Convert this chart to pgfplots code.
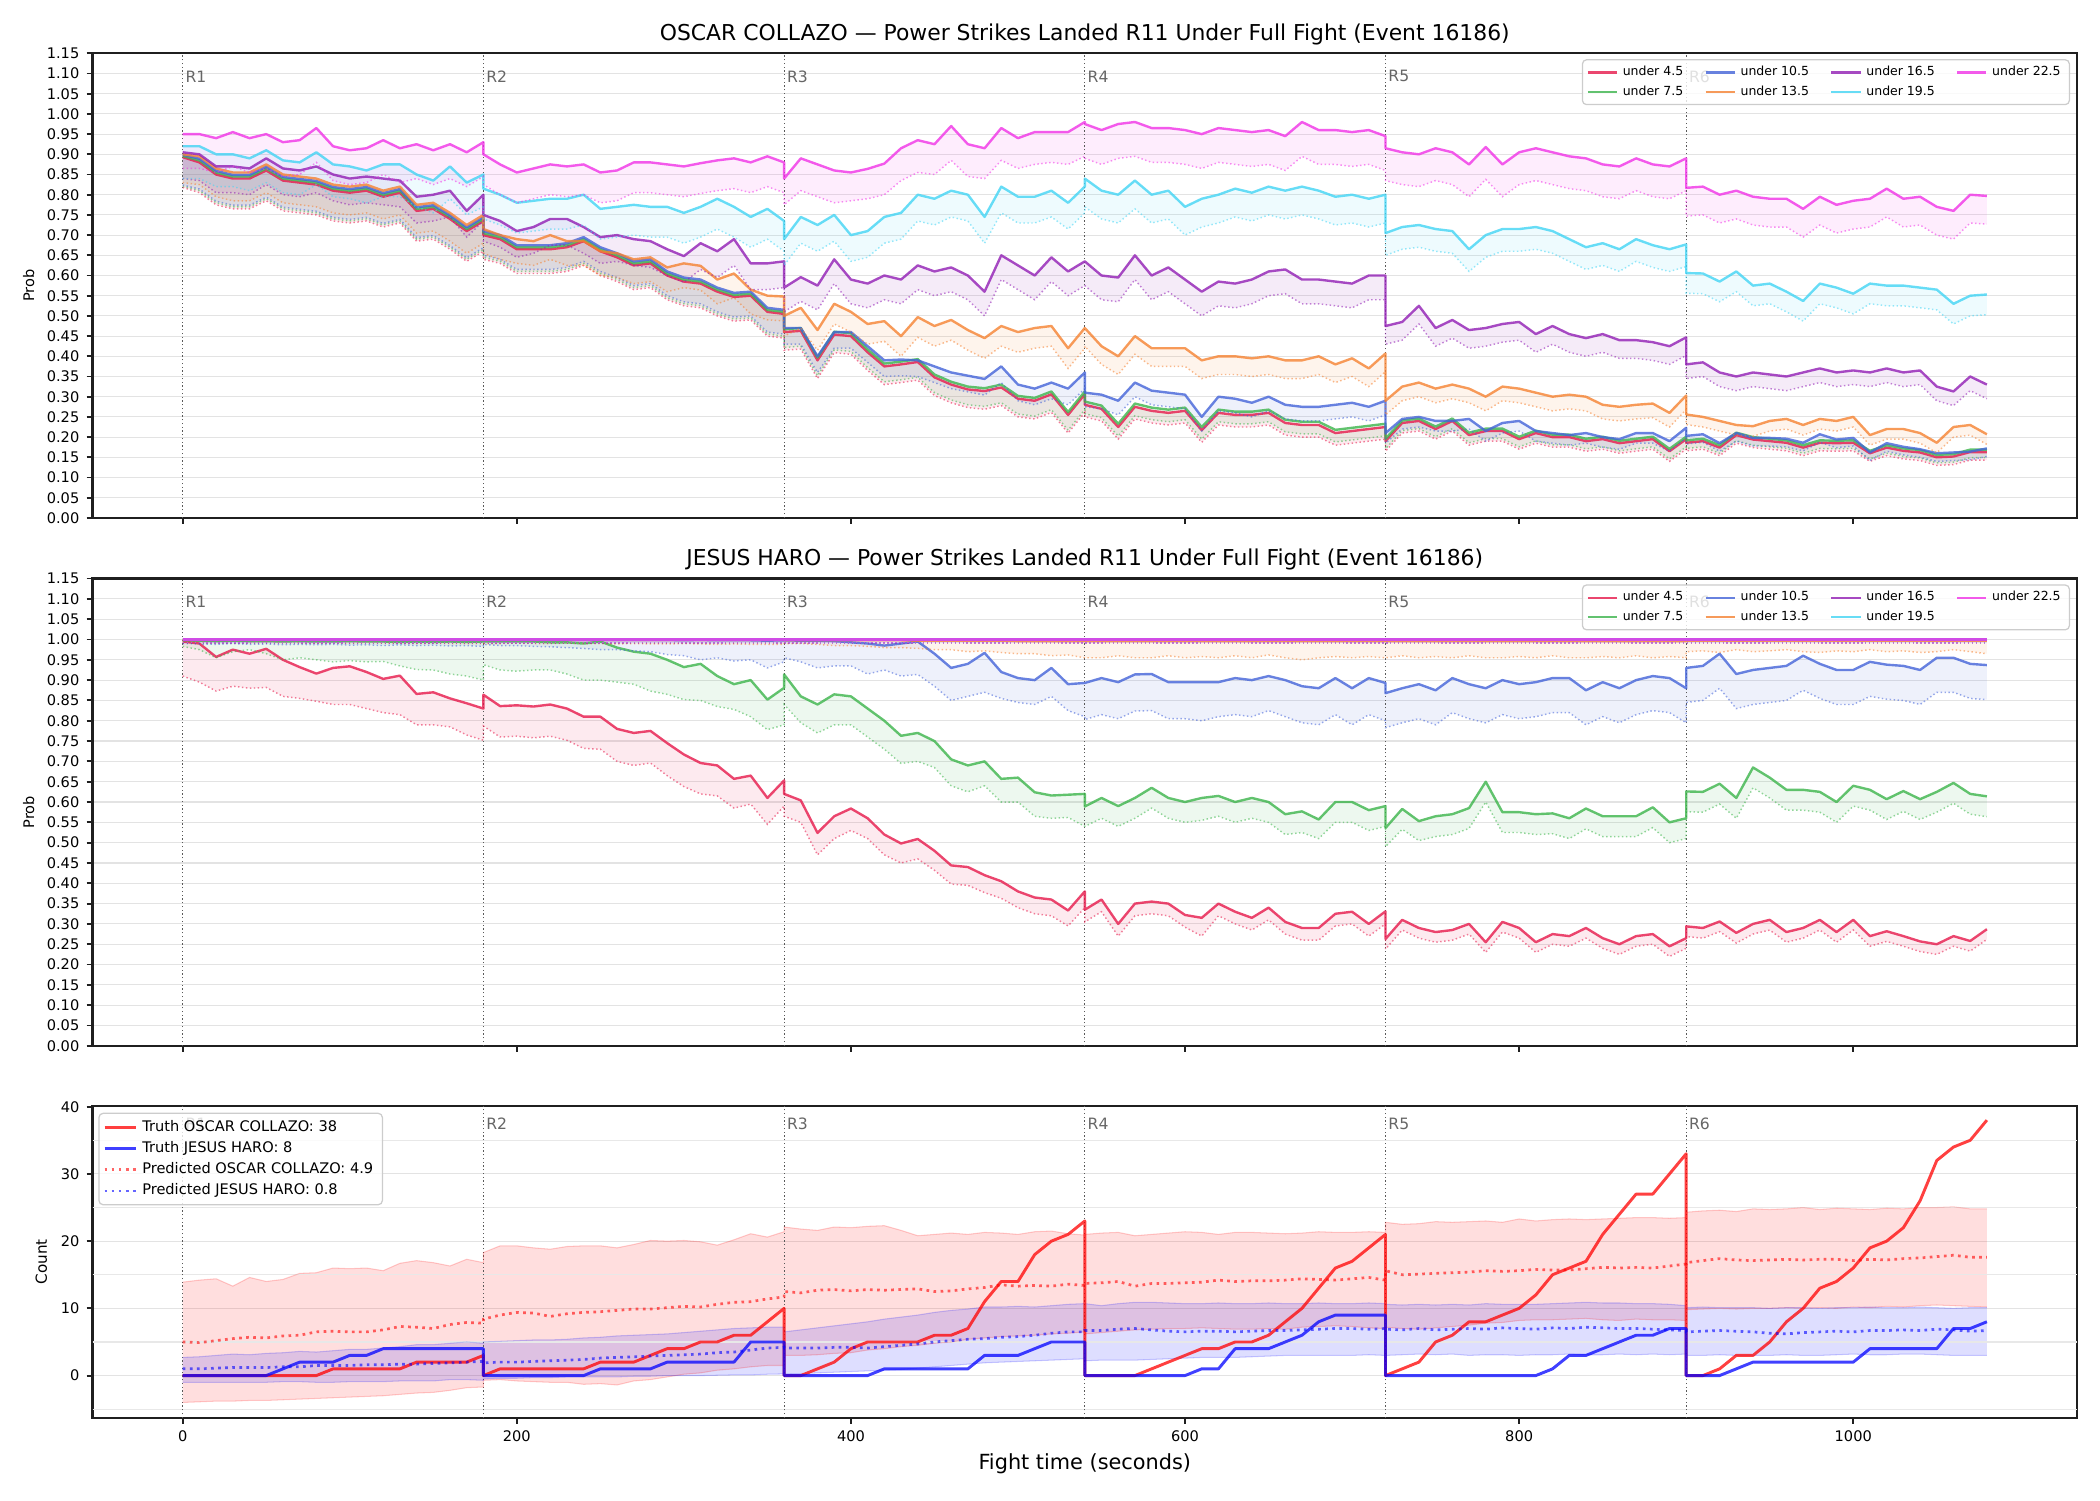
\documentclass[border=0pt]{standalone}
\usepackage{fontspec}
\setmainfont{DejaVu Sans}
\usepackage{pgfplots}
\pgfplotsset{compat=1.18}
\usepackage{pgfplotstable}
\usepgfplotslibrary{fillbetween}

\definecolor{c4}{HTML}{E6194B}
\definecolor{c7}{HTML}{3CB44B}
\definecolor{c10}{HTML}{4363D8}
\definecolor{c13}{HTML}{F58231}
\definecolor{c16}{HTML}{911EB4}
\definecolor{c19}{HTML}{42D4F4}
\definecolor{c22}{HTML}{F032E6}

% Oscar Collazo: P(under k.5) per line, with the lower edge of each band
\pgfplotstableread{
t r rl g gl b bl o ol p pl c cl m ml
0 0.893 0.818 0.896 0.821 0.899 0.824 0.900 0.830 0.905 0.840 0.920 0.840 0.950 0.865
10 0.880 0.805 0.885 0.810 0.889 0.814 0.895 0.825 0.900 0.835 0.920 0.840 0.950 0.865
20 0.850 0.775 0.855 0.780 0.859 0.784 0.865 0.795 0.870 0.805 0.900 0.820 0.940 0.855
30 0.840 0.765 0.845 0.770 0.849 0.774 0.855 0.785 0.870 0.805 0.900 0.820 0.955 0.870
40 0.840 0.765 0.845 0.770 0.849 0.774 0.855 0.785 0.865 0.800 0.890 0.810 0.940 0.855
50 0.860 0.785 0.865 0.790 0.869 0.794 0.875 0.805 0.890 0.825 0.910 0.830 0.950 0.865
60 0.835 0.760 0.840 0.765 0.844 0.769 0.850 0.780 0.865 0.800 0.885 0.805 0.930 0.845
70 0.830 0.755 0.835 0.760 0.839 0.764 0.845 0.775 0.860 0.795 0.880 0.800 0.935 0.850
80 0.825 0.750 0.830 0.755 0.834 0.759 0.840 0.770 0.870 0.805 0.905 0.825 0.965 0.880
90 0.810 0.735 0.815 0.740 0.819 0.744 0.825 0.755 0.850 0.785 0.875 0.795 0.920 0.835
100 0.805 0.730 0.810 0.735 0.814 0.739 0.820 0.750 0.840 0.775 0.870 0.790 0.910 0.825
110 0.810 0.735 0.815 0.740 0.819 0.744 0.825 0.755 0.845 0.780 0.860 0.780 0.915 0.830
120 0.795 0.720 0.800 0.725 0.804 0.729 0.810 0.740 0.840 0.775 0.875 0.795 0.935 0.850
130 0.805 0.730 0.810 0.735 0.814 0.739 0.820 0.750 0.835 0.770 0.875 0.795 0.915 0.830
140 0.760 0.685 0.765 0.690 0.769 0.694 0.775 0.705 0.795 0.730 0.850 0.770 0.925 0.840
150 0.765 0.690 0.770 0.695 0.774 0.699 0.780 0.710 0.800 0.735 0.835 0.755 0.910 0.825
160 0.740 0.665 0.745 0.670 0.749 0.674 0.755 0.685 0.810 0.745 0.870 0.790 0.925 0.840
170 0.710 0.635 0.715 0.640 0.719 0.644 0.725 0.655 0.760 0.695 0.830 0.750 0.905 0.820
180 0.735 0.660 0.740 0.665 0.744 0.669 0.750 0.680 0.800 0.735 0.850 0.770 0.930 0.845
180 0.700 0.640 0.705 0.645 0.710 0.650 0.715 0.655 0.750 0.685 0.815 0.740 0.900 0.825
190 0.690 0.630 0.695 0.635 0.700 0.640 0.700 0.640 0.735 0.670 0.800 0.725 0.875 0.800
200 0.665 0.605 0.670 0.610 0.675 0.615 0.690 0.630 0.710 0.645 0.780 0.705 0.855 0.780
210 0.665 0.605 0.670 0.610 0.675 0.615 0.685 0.625 0.720 0.655 0.785 0.710 0.865 0.790
220 0.665 0.605 0.670 0.610 0.675 0.615 0.700 0.640 0.740 0.675 0.790 0.715 0.875 0.800
230 0.670 0.610 0.675 0.615 0.680 0.620 0.685 0.625 0.740 0.675 0.790 0.715 0.870 0.795
240 0.685 0.625 0.690 0.630 0.695 0.635 0.685 0.625 0.720 0.655 0.800 0.725 0.875 0.800
250 0.660 0.600 0.665 0.605 0.670 0.610 0.660 0.600 0.695 0.630 0.765 0.690 0.855 0.780
260 0.645 0.585 0.650 0.590 0.655 0.595 0.655 0.595 0.700 0.635 0.770 0.695 0.860 0.785
270 0.625 0.565 0.630 0.570 0.635 0.575 0.640 0.580 0.690 0.625 0.775 0.700 0.880 0.805
280 0.630 0.570 0.635 0.575 0.640 0.580 0.645 0.585 0.685 0.620 0.770 0.695 0.880 0.805
290 0.600 0.540 0.605 0.545 0.610 0.550 0.620 0.560 0.665 0.600 0.770 0.695 0.875 0.800
300 0.585 0.525 0.590 0.530 0.595 0.535 0.630 0.570 0.648 0.583 0.755 0.680 0.870 0.795
310 0.580 0.520 0.585 0.525 0.590 0.530 0.624 0.564 0.680 0.615 0.770 0.695 0.878 0.803
320 0.560 0.500 0.565 0.505 0.570 0.510 0.590 0.530 0.660 0.595 0.790 0.715 0.885 0.810
330 0.547 0.487 0.552 0.492 0.557 0.497 0.605 0.545 0.690 0.625 0.770 0.695 0.890 0.815
340 0.550 0.490 0.555 0.495 0.560 0.500 0.565 0.505 0.630 0.565 0.745 0.670 0.880 0.805
350 0.510 0.450 0.515 0.455 0.520 0.460 0.550 0.490 0.630 0.565 0.765 0.690 0.895 0.820
360 0.505 0.445 0.510 0.450 0.515 0.455 0.548 0.488 0.635 0.570 0.735 0.660 0.880 0.805
360 0.460 0.415 0.467 0.422 0.470 0.430 0.500 0.450 0.570 0.510 0.690 0.625 0.840 0.775
370 0.463 0.418 0.470 0.425 0.470 0.430 0.520 0.470 0.596 0.536 0.745 0.680 0.890 0.810
380 0.390 0.345 0.397 0.352 0.400 0.360 0.465 0.415 0.575 0.515 0.725 0.660 0.875 0.795
390 0.454 0.409 0.461 0.416 0.460 0.420 0.530 0.480 0.640 0.580 0.750 0.685 0.860 0.780
400 0.450 0.405 0.457 0.412 0.460 0.420 0.510 0.460 0.590 0.530 0.700 0.635 0.855 0.785
410 0.410 0.365 0.417 0.372 0.425 0.385 0.480 0.430 0.580 0.520 0.710 0.645 0.864 0.790
420 0.375 0.330 0.382 0.337 0.390 0.350 0.487 0.437 0.600 0.540 0.745 0.680 0.877 0.800
430 0.380 0.335 0.387 0.342 0.392 0.352 0.450 0.400 0.590 0.530 0.755 0.690 0.915 0.835
440 0.386 0.341 0.393 0.348 0.390 0.350 0.497 0.447 0.625 0.565 0.800 0.735 0.935 0.855
450 0.348 0.303 0.355 0.310 0.375 0.335 0.475 0.425 0.610 0.550 0.790 0.725 0.925 0.850
460 0.330 0.285 0.337 0.292 0.360 0.320 0.490 0.440 0.620 0.560 0.810 0.745 0.970 0.885
470 0.318 0.273 0.325 0.280 0.352 0.312 0.465 0.415 0.600 0.540 0.800 0.735 0.925 0.845
480 0.314 0.269 0.321 0.276 0.344 0.304 0.445 0.395 0.560 0.500 0.745 0.680 0.915 0.840
490 0.323 0.278 0.330 0.285 0.375 0.335 0.475 0.425 0.650 0.590 0.820 0.755 0.965 0.885
500 0.295 0.250 0.302 0.257 0.330 0.290 0.460 0.410 0.625 0.565 0.795 0.730 0.940 0.865
510 0.290 0.245 0.297 0.252 0.320 0.280 0.470 0.420 0.600 0.540 0.795 0.730 0.955 0.875
520 0.306 0.261 0.313 0.268 0.335 0.295 0.475 0.425 0.645 0.585 0.810 0.745 0.955 0.880
530 0.255 0.210 0.262 0.217 0.320 0.280 0.420 0.370 0.610 0.550 0.780 0.715 0.955 0.875
540 0.306 0.261 0.313 0.268 0.360 0.320 0.470 0.420 0.635 0.575 0.820 0.755 0.980 0.895
540 0.280 0.250 0.288 0.258 0.310 0.275 0.470 0.425 0.635 0.575 0.840 0.770 0.975 0.890
550 0.270 0.240 0.278 0.248 0.305 0.270 0.425 0.380 0.600 0.540 0.810 0.740 0.960 0.875
560 0.225 0.195 0.233 0.203 0.290 0.255 0.400 0.355 0.595 0.535 0.800 0.730 0.975 0.890
570 0.275 0.245 0.283 0.253 0.335 0.300 0.450 0.405 0.650 0.590 0.835 0.765 0.980 0.895
580 0.265 0.235 0.273 0.243 0.315 0.280 0.420 0.375 0.600 0.540 0.800 0.730 0.965 0.880
590 0.260 0.230 0.268 0.238 0.310 0.275 0.420 0.375 0.620 0.560 0.810 0.740 0.965 0.880
600 0.265 0.235 0.273 0.243 0.305 0.270 0.420 0.375 0.590 0.530 0.770 0.700 0.960 0.875
610 0.217 0.187 0.225 0.195 0.250 0.215 0.390 0.345 0.560 0.500 0.790 0.720 0.950 0.865
620 0.260 0.230 0.268 0.238 0.300 0.265 0.400 0.355 0.585 0.525 0.800 0.730 0.965 0.880
630 0.255 0.225 0.263 0.233 0.295 0.260 0.400 0.355 0.580 0.520 0.815 0.745 0.960 0.875
640 0.255 0.225 0.263 0.233 0.285 0.250 0.395 0.350 0.590 0.530 0.805 0.735 0.955 0.870
650 0.260 0.230 0.268 0.238 0.300 0.265 0.400 0.355 0.610 0.550 0.820 0.750 0.960 0.875
660 0.235 0.205 0.243 0.213 0.280 0.245 0.390 0.345 0.615 0.555 0.810 0.740 0.945 0.860
670 0.230 0.200 0.238 0.208 0.275 0.240 0.390 0.345 0.590 0.530 0.820 0.750 0.980 0.895
680 0.230 0.200 0.238 0.208 0.275 0.240 0.400 0.355 0.590 0.530 0.810 0.740 0.960 0.875
690 0.210 0.180 0.218 0.188 0.280 0.245 0.380 0.335 0.585 0.525 0.795 0.725 0.960 0.875
700 0.215 0.185 0.223 0.193 0.285 0.250 0.395 0.350 0.580 0.520 0.800 0.730 0.955 0.870
710 0.220 0.190 0.228 0.198 0.275 0.240 0.370 0.325 0.600 0.540 0.790 0.720 0.960 0.875
720 0.225 0.195 0.233 0.203 0.290 0.255 0.407 0.362 0.600 0.540 0.800 0.730 0.945 0.860
720 0.190 0.165 0.196 0.171 0.210 0.185 0.290 0.255 0.475 0.430 0.705 0.650 0.915 0.835
730 0.235 0.210 0.241 0.216 0.245 0.220 0.325 0.290 0.485 0.440 0.720 0.665 0.905 0.825
740 0.240 0.215 0.246 0.221 0.250 0.225 0.335 0.300 0.525 0.480 0.725 0.670 0.900 0.820
750 0.220 0.195 0.226 0.201 0.240 0.215 0.320 0.285 0.470 0.425 0.715 0.660 0.915 0.835
760 0.240 0.215 0.246 0.221 0.240 0.215 0.330 0.295 0.490 0.445 0.710 0.655 0.905 0.825
770 0.205 0.180 0.211 0.186 0.245 0.220 0.320 0.285 0.465 0.420 0.665 0.610 0.875 0.795
780 0.215 0.190 0.221 0.196 0.215 0.190 0.300 0.265 0.470 0.425 0.700 0.645 0.918 0.838
790 0.215 0.190 0.221 0.196 0.235 0.210 0.325 0.290 0.480 0.435 0.715 0.660 0.875 0.795
800 0.195 0.170 0.201 0.176 0.240 0.215 0.320 0.285 0.485 0.440 0.715 0.660 0.905 0.825
810 0.210 0.185 0.216 0.191 0.215 0.190 0.310 0.275 0.455 0.410 0.720 0.665 0.915 0.835
820 0.200 0.175 0.206 0.181 0.210 0.185 0.300 0.265 0.475 0.430 0.710 0.655 0.905 0.825
830 0.200 0.175 0.206 0.181 0.205 0.180 0.305 0.270 0.455 0.410 0.690 0.635 0.895 0.815
840 0.190 0.165 0.196 0.171 0.210 0.185 0.300 0.265 0.445 0.400 0.670 0.615 0.890 0.810
850 0.195 0.170 0.201 0.176 0.200 0.175 0.280 0.245 0.455 0.410 0.680 0.625 0.875 0.795
860 0.185 0.160 0.191 0.166 0.195 0.170 0.275 0.240 0.440 0.395 0.665 0.610 0.870 0.790
870 0.190 0.165 0.196 0.171 0.210 0.185 0.280 0.245 0.440 0.395 0.690 0.635 0.890 0.810
880 0.195 0.170 0.201 0.176 0.210 0.185 0.283 0.248 0.435 0.390 0.675 0.620 0.875 0.795
890 0.165 0.140 0.171 0.146 0.190 0.165 0.260 0.225 0.425 0.380 0.665 0.610 0.870 0.790
900 0.195 0.170 0.201 0.176 0.223 0.198 0.303 0.268 0.447 0.402 0.677 0.622 0.890 0.810
900 0.186 0.166 0.192 0.172 0.203 0.183 0.256 0.231 0.380 0.345 0.606 0.556 0.817 0.747
910 0.190 0.170 0.196 0.176 0.207 0.187 0.250 0.225 0.385 0.350 0.605 0.555 0.820 0.750
920 0.174 0.154 0.180 0.160 0.185 0.165 0.240 0.215 0.360 0.325 0.585 0.535 0.800 0.730
930 0.205 0.185 0.211 0.191 0.210 0.190 0.230 0.205 0.350 0.315 0.610 0.560 0.810 0.740
940 0.194 0.174 0.200 0.180 0.198 0.178 0.227 0.202 0.360 0.325 0.575 0.525 0.795 0.725
950 0.190 0.170 0.196 0.176 0.198 0.178 0.240 0.215 0.355 0.320 0.580 0.530 0.790 0.720
960 0.186 0.166 0.192 0.172 0.196 0.176 0.245 0.220 0.350 0.315 0.560 0.510 0.790 0.720
970 0.174 0.154 0.180 0.160 0.186 0.166 0.230 0.205 0.360 0.325 0.537 0.487 0.765 0.695
980 0.186 0.166 0.192 0.172 0.207 0.187 0.245 0.220 0.370 0.335 0.580 0.530 0.795 0.725
990 0.185 0.165 0.191 0.171 0.194 0.174 0.240 0.215 0.360 0.325 0.570 0.520 0.775 0.705
1000 0.186 0.166 0.192 0.172 0.198 0.178 0.250 0.225 0.365 0.330 0.555 0.505 0.785 0.715
1010 0.160 0.140 0.166 0.146 0.162 0.142 0.205 0.180 0.360 0.325 0.580 0.530 0.790 0.720
1020 0.174 0.154 0.180 0.160 0.185 0.165 0.220 0.195 0.370 0.335 0.575 0.525 0.815 0.745
1030 0.166 0.146 0.172 0.152 0.176 0.156 0.220 0.195 0.360 0.325 0.575 0.525 0.790 0.720
1040 0.162 0.142 0.168 0.148 0.170 0.150 0.210 0.185 0.365 0.330 0.570 0.520 0.795 0.725
1050 0.150 0.130 0.156 0.136 0.160 0.140 0.186 0.161 0.325 0.290 0.565 0.515 0.770 0.700
1060 0.152 0.132 0.158 0.138 0.162 0.142 0.225 0.200 0.313 0.278 0.530 0.480 0.760 0.690
1070 0.163 0.143 0.169 0.149 0.164 0.144 0.230 0.205 0.350 0.315 0.550 0.500 0.800 0.730
1080 0.163 0.143 0.169 0.149 0.172 0.152 0.207 0.182 0.330 0.295 0.553 0.503 0.797 0.727
}\probA

% Jesus Haro: the four lines that move (16.5 and up stay at 1)
\pgfplotstableread{
t r rl g gl b bl o ol
0 0.995 0.910 0.998 0.983 0.999 0.990 0.999 0.993
10 0.990 0.895 0.997 0.975 0.999 0.989 0.999 0.993
20 0.957 0.873 0.996 0.955 0.999 0.988 0.999 0.992
30 0.975 0.885 0.997 0.970 0.999 0.990 0.999 0.993
40 0.965 0.880 0.996 0.975 0.999 0.988 0.999 0.992
50 0.977 0.882 0.996 0.965 0.999 0.989 0.999 0.993
60 0.950 0.860 0.995 0.950 0.999 0.987 0.999 0.992
70 0.932 0.855 0.996 0.955 0.999 0.988 0.999 0.992
80 0.916 0.848 0.995 0.950 0.999 0.987 0.999 0.991
90 0.930 0.840 0.995 0.945 0.999 0.988 0.999 0.992
100 0.934 0.840 0.996 0.948 0.999 0.986 0.999 0.991
110 0.920 0.830 0.995 0.945 0.999 0.987 0.999 0.992
120 0.903 0.820 0.995 0.946 0.999 0.985 0.999 0.991
130 0.911 0.815 0.994 0.935 0.999 0.987 0.999 0.991
140 0.866 0.790 0.995 0.926 0.999 0.985 0.999 0.990
150 0.870 0.790 0.994 0.925 0.999 0.986 0.999 0.991
160 0.855 0.785 0.995 0.915 0.999 0.984 0.999 0.990
170 0.843 0.765 0.994 0.910 0.999 0.985 0.999 0.990
180 0.830 0.752 0.995 0.900 0.999 0.983 0.999 0.990
180 0.864 0.787 0.995 0.938 0.999 0.988 0.999 0.990
190 0.836 0.760 0.995 0.925 0.999 0.985 0.999 0.990
200 0.838 0.762 0.995 0.922 0.999 0.985 0.999 0.991
210 0.835 0.758 0.995 0.925 0.999 0.983 0.999 0.990
220 0.840 0.762 0.993 0.925 0.999 0.982 0.999 0.990
230 0.830 0.752 0.993 0.915 0.999 0.980 0.999 0.991
240 0.810 0.732 0.990 0.900 0.999 0.978 0.999 0.990
250 0.810 0.730 0.995 0.900 0.999 0.975 0.999 0.990
260 0.780 0.700 0.980 0.895 0.999 0.975 0.999 0.989
270 0.770 0.690 0.970 0.890 0.999 0.972 0.999 0.990
280 0.775 0.696 0.965 0.873 0.999 0.970 0.999 0.989
290 0.745 0.665 0.950 0.865 0.999 0.963 0.999 0.989
300 0.717 0.638 0.932 0.852 0.998 0.960 0.999 0.990
310 0.696 0.620 0.940 0.850 0.999 0.950 0.999 0.989
320 0.690 0.615 0.910 0.835 0.998 0.955 0.999 0.988
330 0.657 0.585 0.890 0.828 0.998 0.947 0.999 0.989
340 0.665 0.595 0.900 0.810 0.998 0.950 0.999 0.988
350 0.610 0.545 0.852 0.778 0.997 0.930 0.999 0.988
360 0.653 0.590 0.881 0.790 0.998 0.945 0.999 0.988
360 0.620 0.565 0.914 0.840 0.998 0.955 0.998 0.990
370 0.604 0.550 0.860 0.795 0.997 0.945 0.998 0.990
380 0.524 0.470 0.840 0.770 0.997 0.930 0.998 0.988
390 0.565 0.510 0.865 0.790 0.996 0.935 0.998 0.985
400 0.584 0.530 0.860 0.790 0.993 0.935 0.998 0.985
410 0.560 0.510 0.830 0.760 0.990 0.915 0.998 0.983
420 0.520 0.470 0.800 0.730 0.985 0.925 0.998 0.980
430 0.498 0.450 0.763 0.695 0.990 0.910 0.998 0.980
440 0.509 0.460 0.770 0.700 0.995 0.914 0.997 0.978
450 0.480 0.432 0.750 0.685 0.965 0.885 0.997 0.975
460 0.444 0.398 0.705 0.640 0.930 0.850 0.997 0.975
470 0.440 0.395 0.690 0.625 0.940 0.860 0.997 0.970
480 0.420 0.377 0.700 0.640 0.967 0.870 0.997 0.972
490 0.405 0.363 0.657 0.600 0.920 0.855 0.997 0.968
500 0.380 0.340 0.660 0.600 0.905 0.845 0.996 0.965
510 0.365 0.325 0.624 0.565 0.900 0.840 0.996 0.965
520 0.360 0.320 0.616 0.560 0.930 0.860 0.996 0.960
530 0.333 0.295 0.618 0.562 0.890 0.825 0.996 0.962
540 0.380 0.340 0.620 0.540 0.893 0.810 0.996 0.955
540 0.335 0.305 0.589 0.540 0.893 0.803 0.996 0.955
550 0.360 0.330 0.610 0.560 0.905 0.815 0.996 0.955
560 0.300 0.270 0.590 0.540 0.895 0.805 0.996 0.960
570 0.350 0.320 0.610 0.560 0.914 0.824 0.996 0.955
580 0.355 0.325 0.635 0.585 0.915 0.825 0.996 0.955
590 0.350 0.320 0.610 0.560 0.895 0.805 0.996 0.960
600 0.322 0.292 0.600 0.550 0.895 0.805 0.996 0.955
610 0.315 0.270 0.610 0.555 0.895 0.800 0.996 0.958
620 0.350 0.320 0.615 0.565 0.895 0.810 0.996 0.955
630 0.330 0.300 0.600 0.550 0.905 0.815 0.996 0.960
640 0.315 0.285 0.610 0.560 0.900 0.810 0.996 0.955
650 0.340 0.310 0.600 0.550 0.910 0.825 0.996 0.962
660 0.305 0.275 0.570 0.520 0.900 0.810 0.996 0.955
670 0.290 0.260 0.577 0.525 0.885 0.795 0.996 0.950
680 0.290 0.260 0.557 0.510 0.880 0.790 0.996 0.955
690 0.325 0.295 0.600 0.550 0.905 0.815 0.996 0.958
700 0.330 0.300 0.600 0.550 0.880 0.790 0.996 0.955
710 0.300 0.270 0.580 0.530 0.905 0.815 0.996 0.958
720 0.331 0.300 0.590 0.540 0.893 0.800 0.996 0.955
720 0.263 0.238 0.536 0.490 0.868 0.783 0.996 0.955
730 0.310 0.285 0.583 0.533 0.880 0.795 0.996 0.960
740 0.290 0.265 0.553 0.505 0.890 0.805 0.996 0.955
750 0.280 0.255 0.565 0.515 0.875 0.790 0.996 0.958
760 0.285 0.260 0.570 0.520 0.905 0.820 0.996 0.955
770 0.300 0.275 0.585 0.535 0.890 0.805 0.996 0.960
780 0.255 0.230 0.650 0.600 0.880 0.795 0.996 0.955
790 0.305 0.280 0.575 0.525 0.900 0.815 0.996 0.955
800 0.290 0.265 0.575 0.525 0.890 0.805 0.996 0.958
810 0.255 0.230 0.570 0.520 0.895 0.810 0.996 0.955
820 0.275 0.250 0.572 0.522 0.905 0.820 0.996 0.960
830 0.270 0.245 0.560 0.510 0.905 0.820 0.996 0.955
840 0.290 0.265 0.584 0.534 0.875 0.790 0.996 0.955
850 0.265 0.240 0.565 0.515 0.895 0.810 0.996 0.958
860 0.250 0.225 0.565 0.515 0.880 0.795 0.996 0.955
870 0.270 0.245 0.565 0.515 0.900 0.815 0.996 0.960
880 0.275 0.250 0.587 0.537 0.910 0.825 0.996 0.955
890 0.245 0.220 0.550 0.500 0.905 0.820 0.996 0.958
900 0.265 0.240 0.560 0.510 0.880 0.795 0.996 0.955
900 0.294 0.269 0.626 0.576 0.930 0.845 0.997 0.970
910 0.290 0.265 0.625 0.575 0.935 0.850 0.997 0.972
920 0.306 0.281 0.645 0.595 0.965 0.880 0.997 0.968
930 0.278 0.253 0.610 0.560 0.915 0.830 0.997 0.975
940 0.300 0.275 0.685 0.635 0.925 0.840 0.997 0.970
950 0.310 0.285 0.660 0.610 0.930 0.845 0.997 0.972
960 0.280 0.255 0.630 0.580 0.935 0.850 0.997 0.975
970 0.290 0.265 0.630 0.580 0.960 0.875 0.997 0.970
980 0.310 0.285 0.625 0.575 0.940 0.855 0.997 0.968
990 0.280 0.255 0.600 0.550 0.925 0.840 0.997 0.972
1000 0.310 0.285 0.640 0.590 0.925 0.840 0.997 0.970
1010 0.270 0.245 0.630 0.580 0.945 0.860 0.997 0.975
1020 0.282 0.257 0.607 0.557 0.938 0.853 0.997 0.970
1030 0.270 0.245 0.627 0.577 0.935 0.850 0.997 0.972
1040 0.257 0.232 0.607 0.557 0.925 0.840 0.997 0.968
1050 0.250 0.225 0.625 0.575 0.955 0.870 0.997 0.970
1060 0.270 0.245 0.647 0.597 0.955 0.870 0.997 0.975
1070 0.258 0.233 0.620 0.570 0.940 0.855 0.997 0.970
1080 0.287 0.262 0.614 0.564 0.937 0.852 0.997 0.965
}\probB

% counts within each round: truth (tr, tb), predicted mean and band (pr/prl/pru, pb/pbl/pbu)
\pgfplotstableread{
t tr tb pr prl pru pb pbl pbu
0 0 0 5.0 -4.0 13.9 1.0 -1.0 2.7
10 0 0 4.9 -3.9 14.2 1.0 -1.0 2.8
20 0 0 5.2 -3.8 14.4 1.1 -1.0 3.0
30 0 0 5.5 -3.8 13.3 1.2 -1.0 3.2
40 0 0 5.7 -3.7 14.6 1.2 -1.0 3.1
50 0 0 5.6 -3.7 14.0 1.2 -1.0 3.3
60 0 1 5.9 -3.6 14.3 1.3 -0.9 3.4
70 0 2 6.0 -3.5 15.2 1.3 -0.9 3.6
80 0 2 6.5 -3.4 15.3 1.5 -1.0 3.5
90 1 2 6.6 -3.3 16.0 1.5 -1.0 3.7
100 1 3 6.5 -3.2 15.9 1.5 -0.9 3.9
110 1 3 6.5 -3.1 16.0 1.6 -0.9 3.9
120 1 4 6.8 -3.0 15.6 1.6 -0.9 4.1
130 1 4 7.3 -2.8 16.7 1.7 -0.8 4.3
140 2 4 7.2 -2.6 17.1 1.7 -0.8 4.6
150 2 4 7.0 -2.5 16.8 1.8 -0.8 4.6
160 2 4 7.6 -2.2 16.3 1.9 -0.6 4.8
170 2 4 7.9 -1.8 17.3 2.0 -0.6 5.0
180 3 4 7.8 -1.7 16.8 2.1 -0.7 4.8
180 0 0 8.4 -0.7 18.3 1.9 -0.5 5.0
190 1 0 9.0 -0.6 19.3 2.0 -0.4 5.1
200 1 0 9.4 -0.8 19.3 2.0 -0.4 5.2
210 1 0 9.3 -0.9 19.0 2.1 -0.3 5.3
220 1 0 8.8 -1.0 18.8 2.2 -0.3 5.3
230 1 0 9.2 -1.0 19.2 2.3 -0.2 5.4
240 1 0 9.4 -1.3 19.3 2.4 -0.2 5.6
250 2 1 9.5 -1.2 19.3 2.6 -0.2 5.7
260 2 1 9.7 -1.4 19.0 2.7 -0.2 5.9
270 2 1 9.9 -0.8 19.5 2.8 -0.1 6.0
280 3 1 9.9 -0.6 20.1 2.9 -0.1 6.1
290 4 2 10.1 -0.2 20.0 3.0 0.0 6.2
300 4 2 10.3 0.2 20.1 3.1 0.0 6.4
310 5 2 10.2 0.4 19.9 3.2 0.0 6.6
320 5 2 10.6 0.8 19.4 3.4 0.05 6.8
330 6 2 10.9 1.0 20.2 3.5 0.1 7.0
340 6 5 11.0 1.3 21.1 3.8 0.1 7.1
350 8 5 11.4 1.5 20.6 4.1 0.2 7.2
360 10 5 11.7 1.5 21.4 4.2 0.25 7.2
360 0 0 12.5 3.0 22.1 4.1 0.25 6.5
370 0 0 12.3 3.0 21.8 4.1 0.3 6.8
380 1 0 12.7 3.1 21.6 4.1 0.4 7.1
390 2 0 12.8 3.3 22.1 4.2 0.5 7.4
400 4 0 12.6 3.4 22.0 4.2 0.6 7.7
410 5 0 12.8 3.8 22.2 4.1 0.7 8.0
420 5 1 12.7 4.0 22.3 4.3 0.8 8.4
430 5 1 12.8 4.3 21.6 4.5 0.9 8.7
440 5 1 12.9 4.5 20.8 4.7 1.1 9.0
450 6 1 12.5 4.8 21.0 5.0 1.3 9.4
460 6 1 12.6 5.0 21.2 5.2 1.5 9.7
470 7 1 12.9 5.4 21.0 5.4 1.7 9.9
480 11 3 13.1 5.6 21.3 5.5 1.9 10.2
490 14 3 13.5 5.8 21.2 5.7 2.0 10.2
500 14 3 13.3 5.9 21.0 5.8 2.1 10.3
510 18 4 13.4 6.0 21.4 6.0 2.2 10.2
520 20 5 13.3 6.2 21.5 6.3 2.3 10.4
530 21 5 13.6 6.3 21.1 6.5 2.4 10.6
540 23 5 13.4 6.5 20.9 6.5 2.5 10.7
540 0 0 13.7 6.2 21.0 6.7 2.2 10.7
550 0 0 13.8 6.4 21.2 6.7 2.3 10.4
560 0 0 14.0 6.6 21.3 6.9 2.3 10.7
570 0 0 13.3 6.8 20.8 7.0 2.3 10.9
580 1 0 13.7 6.9 21.0 6.8 2.4 10.9
590 2 0 13.7 7.0 21.2 6.6 2.5 10.8
600 3 0 13.8 7.0 21.4 6.5 2.6 10.7
610 4 1 13.9 7.1 21.3 6.6 2.7 10.7
620 4 1 14.2 7.0 21.0 6.6 2.7 10.8
630 5 4 14.0 6.9 21.3 6.5 2.7 10.7
640 5 4 14.1 6.9 21.3 6.6 2.8 10.7
650 6 4 14.1 7.0 21.2 6.7 2.9 10.8
660 8 5 14.2 6.9 21.1 6.7 3.0 10.7
670 10 6 14.4 7.2 21.2 6.8 3.0 10.7
680 13 8 14.3 7.3 21.4 6.9 3.0 10.8
690 16 9 14.2 7.4 21.3 7.0 3.0 10.7
700 17 9 14.4 7.3 21.3 7.0 3.0 10.7
710 19 9 14.6 7.1 21.4 6.9 3.1 10.8
720 21 9 14.2 7.0 21.3 7.0 3.0 10.7
720 0 0 15.6 7.2 22.8 6.9 3.0 10.6
730 1 0 15.0 7.0 22.5 6.8 3.1 10.5
740 2 0 15.1 6.9 22.6 7.0 3.2 10.6
750 5 0 15.2 7.1 22.9 6.8 3.1 10.5
760 6 0 15.3 7.3 22.8 6.9 3.2 10.6
770 8 0 15.4 7.5 22.9 7.0 3.0 10.5
780 8 0 15.6 7.8 23.0 6.9 3.1 10.7
790 9 0 15.5 7.9 22.8 7.1 3.1 10.6
800 10 0 15.6 8.2 23.3 7.0 3.0 10.6
810 12 0 15.8 8.3 23.0 6.9 3.1 10.6
820 15 1 15.7 8.3 23.2 7.1 3.1 10.7
830 16 3 15.7 8.4 23.3 7.0 3.2 10.8
840 17 3 15.9 8.5 23.2 7.2 3.1 10.9
850 21 4 16.1 8.3 23.3 7.1 3.1 10.8
860 24 5 16.0 8.2 23.4 7.0 3.2 10.8
870 27 6 16.1 8.4 23.5 7.0 3.1 10.7
880 27 6 16.0 8.3 23.5 6.9 3.2 10.7
890 30 7 16.3 8.3 23.4 6.8 3.1 10.6
900 33 7 16.6 8.2 23.5 6.7 3.2 10.4
900 0 0 16.8 9.8 24.3 6.5 3.0 10.1
910 0 0 17.1 9.9 24.5 6.6 3.0 10.2
920 1 0 17.4 10.0 24.6 6.7 3.1 10.1
930 3 1 17.2 9.9 24.4 6.6 3.0 10.1
940 3 2 17.1 10.0 24.8 6.5 3.0 10.1
950 5 2 17.2 10.0 24.7 6.3 3.0 10.0
960 8 2 17.3 10.1 24.8 6.2 3.1 10.1
970 10 2 17.2 10.0 25.0 6.4 3.0 10.1
980 13 2 17.3 10.1 24.7 6.5 3.0 10.0
990 14 2 17.3 10.0 24.9 6.6 3.1 10.1
1000 16 2 17.1 10.2 24.8 6.5 3.2 10.1
1010 19 4 17.3 10.1 24.7 6.7 3.1 10.2
1020 20 4 17.2 10.3 24.9 6.7 3.1 10.1
1030 22 4 17.4 10.2 24.8 6.8 3.2 10.1
1040 26 4 17.5 10.4 25.0 6.7 3.2 10.2
1050 32 4 17.7 10.5 25.0 6.9 3.1 10.1
1060 34 7 17.9 10.4 25.1 6.8 3.0 10.0
1070 35 7 17.6 10.3 24.8 6.6 3.0 10.1
1080 38 8 17.6 10.2 24.8 6.7 3.0 10.1
}\counts

\tikzset{
  probline/.style={line width=1.15pt, opacity=0.8, line join=round},
  lowline/.style={line width=0.7pt, opacity=0.55, dash pattern=on 0.7pt off 1.2pt},
  legline/.style={line width=1.15pt, opacity=0.8},
  rline/.style={black!65, line width=0.5pt, dash pattern=on 0.6pt off 1.2pt},
  rlab/.style={anchor=west, inner sep=1.2pt, text=black!60, font=\fontsize{7.5}{9}\selectfont},
  halfgrid/.style={line width=0.55pt, black!9},
}

\pgfplotsset{
  panel/.style={
    scale only axis, width=952.6pt, anchor=south west,
    xmin=-54, xmax=1134,
    xtick={0,200,400,600,800,1000},
    tick align=outside, tick pos=left,
    major tick length=2.8pt,
    axis line style={line width=1pt, black!88},
    every tick/.style={line width=0.9pt, black!88},
    ymajorgrids, major grid style={line width=0.55pt, black!11},
    tick label style={font=\fontsize{7}{8}\selectfont},
    /pgf/number format/assume math mode=true,
    /pgf/number format/1000 sep={},
    set layers,
    legend cell align=left,
  },
  prob/.style={
    ymin=0, ymax=1.15,
    ytick={0,0.05,0.1,0.15,0.2,0.25,0.3,0.35,0.4,0.45,0.5,0.55,0.6,0.65,0.7,0.75,0.8,0.85,0.9,0.95,1,1.05,1.1,1.15},
    yticklabel style={/pgf/number format/fixed, /pgf/number format/fixed zerofill, /pgf/number format/precision=2},
    xticklabels={},
    legend columns=4,
    legend style={font=\fontsize{6}{7}\selectfont, draw=black!20, line width=0.6pt,
      rounded corners=2pt, fill=white, fill opacity=0.8, text opacity=1,
      at={(axis description cs:1,1)}, anchor=north east, xshift=-3.4pt, yshift=-2.8pt,
      inner xsep=2pt, inner ysep=1.5pt,
      nodes={inner xsep=2.2pt, inner ysep=1.6pt},
      /tikz/every even column/.append style={column sep=8pt}},
    legend image code/.code={\draw[##1] (0pt,0pt) -- (14pt,0pt);},
  },
}

% one probability line with its dotted lower edge and the band between them
\newcommand\probseries[4]{%
  \addplot[forget plot, #4, probline, name path=hi#2] table[x=t, y=#2] {#1};
  \addplot[forget plot, #4, lowline, name path=lo#2] table[x=t, y=#3] {#1};
  \addplot[forget plot, fill=#4, fill opacity=0.09, draw=none] fill between[of=hi#2 and lo#2];
}
% a line that stays at certainty for the whole fight
\newcommand\certain[3]{%
  \addplot[forget plot, #1, probline, name path=hi#3] coordinates {(0,1) (1080,1)};
  \addplot[forget plot, #1, lowline, name path=lo#3] coordinates {(0,#2) (1080,#2)};
  \addplot[forget plot, fill=#1, fill opacity=0.09, draw=none] fill between[of=hi#3 and lo#3];
}
% round boundaries and their labels: #1 label height, #2/#3 span of the line
\newcommand\rounds[3]{%
  \pgfplotsinvokeforeach{0,180,360,540,720,900}{%
    \draw[rline] (axis cs:##1,#2) -- (axis cs:##1,#3);
    \node[rlab] at (axis cs:##1,#1) {R\the\numexpr##1/180+1\relax};
  }}
\newcommand\problegend{%
  \addlegendimage{c4, legline}\addlegendentry{under 4.5}
  \addlegendimage{c10, legline}\addlegendentry{under 10.5}
  \addlegendimage{c16, legline}\addlegendentry{under 16.5}
  \addlegendimage{c22, legline}\addlegendentry{under 22.5}
  \addlegendimage{c7, legline}\addlegendentry{under 7.5}
  \addlegendimage{c13, legline}\addlegendentry{under 13.5}
  \addlegendimage{c19, legline}\addlegendentry{under 19.5}
}

\begin{document}
\begin{tikzpicture}
% page frame: the figure is 1008pt x 720pt
\path (0pt,0pt) rectangle (1008pt,720pt);

% ---- Oscar Collazo ----
\begin{axis}[panel, prob, at={(44.4pt,471.4pt)}, height=223pt]
  \rounds{1.093}{0}{1.15}
  \probseries{\probA}{r}{rl}{c4}
  \probseries{\probA}{g}{gl}{c7}
  \probseries{\probA}{b}{bl}{c10}
  \probseries{\probA}{o}{ol}{c13}
  \probseries{\probA}{p}{pl}{c16}
  \probseries{\probA}{c}{cl}{c19}
  \probseries{\probA}{m}{ml}{c22}
  \problegend
\end{axis}

% ---- Jesus Haro ----
\begin{axis}[panel, prob, at={(44.4pt,218pt)}, height=224.3pt]
  \rounds{1.093}{0}{1.15}
  \probseries{\probB}{r}{rl}{c4}
  \probseries{\probB}{g}{gl}{c7}
  \probseries{\probB}{b}{bl}{c10}
  \probseries{\probB}{o}{ol}{c13}
  \certain{c16}{0.991}{p}
  \certain{c19}{0.992}{c}
  \certain{c22}{0.993}{m}
  \problegend
\end{axis}

% ---- counts ----
\begin{axis}[panel, at={(44.4pt,39.4pt)}, height=149.7pt,
    ymin=-6.3, ymax=40.1, ytick={0,10,20,30,40},
    legend style={font=\fontsize{7}{8.4}\selectfont, draw=black!20, line width=0.6pt,
      rounded corners=2pt, fill=white, fill opacity=0.8, text opacity=1,
      at={(axis description cs:0,1)}, anchor=north west, xshift=2.8pt, yshift=-3.2pt,
      inner xsep=2pt, inner ysep=1.5pt, nodes={inner xsep=2.4pt, inner ysep=1.7pt}},
    legend image code/.code={\draw[#1] (0pt,0pt) -- (15pt,0pt);},
  ]
  % grid lines half way between the labelled counts
  \addplot[forget plot, halfgrid] coordinates {(-54,-5) (1134,-5)};
  \addplot[forget plot, halfgrid] coordinates {(-54,5) (1134,5)};
  \addplot[forget plot, halfgrid] coordinates {(-54,15) (1134,15)};
  \addplot[forget plot, halfgrid] coordinates {(-54,25) (1134,25)};
  \addplot[forget plot, halfgrid] coordinates {(-54,35) (1134,35)};
  \rounds{37.4}{-6.3}{40.1}
  \addplot[forget plot, red, draw opacity=0.2, line width=0.5pt, name path=rlo] table[x=t, y=prl] {\counts};
  \addplot[forget plot, red, draw opacity=0.2, line width=0.5pt, name path=rhi] table[x=t, y=pru] {\counts};
  \addplot[forget plot, fill=red, fill opacity=0.13, draw=none] fill between[of=rhi and rlo];
  \addplot[forget plot, blue, draw opacity=0.2, line width=0.5pt, name path=blo] table[x=t, y=pbl] {\counts};
  \addplot[forget plot, blue, draw opacity=0.2, line width=0.5pt, name path=bhi] table[x=t, y=pbu] {\counts};
  \addplot[forget plot, fill=blue, fill opacity=0.13, draw=none] fill between[of=bhi and blo];
  \addplot[forget plot, red, opacity=0.75, line width=1.4pt, line join=round] table[x=t, y=tr] {\counts};
  \addplot[forget plot, blue, opacity=0.75, line width=1.4pt, line join=round] table[x=t, y=tb] {\counts};
  \addplot[forget plot, red, opacity=0.6, line width=1.3pt, dash pattern=on 1.3pt off 2.1pt] table[x=t, y=pr] {\counts};
  \addplot[forget plot, blue, opacity=0.6, line width=1.3pt, dash pattern=on 1.3pt off 2.1pt] table[x=t, y=pb] {\counts};
  \addlegendimage{red, opacity=0.75, line width=1.4pt}\addlegendentry{Truth OSCAR COLLAZO: 38}
  \addlegendimage{blue, opacity=0.75, line width=1.4pt}\addlegendentry{Truth JESUS HARO: 8}
  \addlegendimage{red, opacity=0.6, line width=1.3pt, dash pattern=on 1.3pt off 2.1pt}\addlegendentry{Predicted OSCAR COLLAZO: 4.9}
  \addlegendimage{blue, opacity=0.6, line width=1.3pt, dash pattern=on 1.3pt off 2.1pt}\addlegendentry{Predicted JESUS HARO: 0.8}
\end{axis}

% titles and axis labels
\node[anchor=base, font=\fontsize{10.5}{12}\selectfont] at (520.7pt,700.6pt)
  {OSCAR COLLAZO — Power Strikes Landed R11 Under Full Fight (Event 16186)};
\node[anchor=base, font=\fontsize{10.5}{12}\selectfont] at (520.7pt,448.4pt)
  {JESUS HARO — Power Strikes Landed R11 Under Full Fight (Event 16186)};
\node[rotate=90, font=\fontsize{7}{8}\selectfont] at (13.8pt,582.9pt) {Prob};
\node[rotate=90, font=\fontsize{7}{8}\selectfont] at (13.8pt,330.1pt) {Prob};
\node[rotate=90, font=\fontsize{7.3}{8.5}\selectfont] at (19.9pt,114.3pt) {Count};
\node[font=\fontsize{10}{12}\selectfont] at (520.7pt,17.4pt) {Fight time (seconds)};
\end{tikzpicture}
\end{document}
